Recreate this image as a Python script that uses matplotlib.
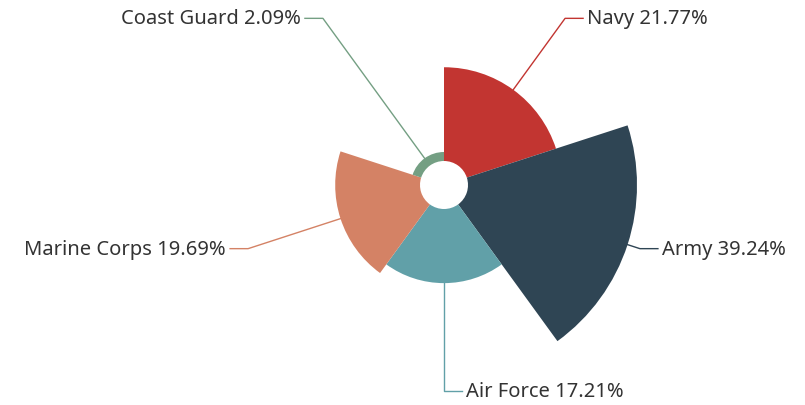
import numpy as np
import matplotlib.pyplot as plt
from matplotlib.patches import Wedge

# data
names = ['Navy', 'Army', 'Air Force', 'Marine Corps', 'Coast Guard']
values = [21.77, 39.24, 17.21, 19.69, 2.09]
colors = ['#c23531', '#2f4554', '#61a0a8', '#d48265', '#749f83']

W, H = 805, 406
fig = plt.figure(figsize=(W / 100, H / 100), dpi=100)
ax = fig.add_axes([0, 0, 1, 1])
ax.set_xlim(0, W)
ax.set_ylim(0, H)
ax.set_aspect('equal')
ax.axis('off')

cx, cy = 444, H - 186
r0, R = 24, 193
label_r = 206

vals = np.array(values)
total = vals.sum()
n = len(vals)
step = 360.0 / n  # rose 'area': equal angles, radius by value

for i, (name, v, c) in enumerate(zip(names, vals, colors)):
    a0 = i * step  # clockwise from top
    a1 = (i + 1) * step
    r = r0 + (R - r0) * v / vals.max()
    ax.add_patch(Wedge((cx, cy), r, 90 - a1, 90 - a0, width=r - r0,
                       facecolor=c, edgecolor='none'))

    # label line
    am = np.deg2rad((a0 + a1) / 2)
    dx, dy = np.sin(am), np.cos(am)
    x1, y1 = cx + r * dx, cy + r * dy
    x2, y2 = cx + label_r * dx, cy + label_r * dy
    side = 1 if dx >= 0 else -1
    x3 = x2 + side * 18
    ax.plot([x1, x2, x3], [y1, y2, y2], color=c, lw=1)
    pct = '%s %.2f%%' % (name, v / total * 100)
    ax.text(x3 + side * 4, y2, pct, ha='left' if side > 0 else 'right',
            va='center', fontsize=14.5, color='#333333', family='Noto Sans')

fig.savefig('out.png', dpi=100)
